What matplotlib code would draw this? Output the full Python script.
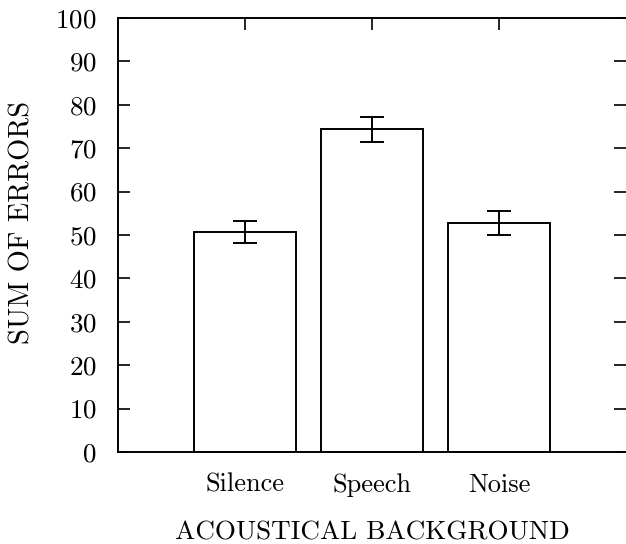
import matplotlib
matplotlib.use("Agg")
import matplotlib.pyplot as plt

categories = ["Silence", "Speech", "Noise"]
means = [50.6, 74.4, 52.7]
errors = [2.55, 2.9, 2.75]
yticks = [0, 10, 20, 30, 40, 50, 60, 70, 80, 90, 100]
xlabel = "ACOUSTICAL BACKGROUND"
ylabel = "SUM OF ERRORS"

plt.rcParams['font.family'] = ['cmr10', 'DejaVu Serif']
plt.rcParams['axes.formatter.use_mathtext'] = True

W, H = 626, 544
fig = plt.figure(figsize=(W / 100, H / 100), dpi=100)
ax = fig.add_axes([118 / W, (H - 452) / H, (W - 118) / W, 434 / H])

pos = [1, 2, 3]
ax.bar(pos, means, width=0.8, color='white', edgecolor='black', linewidth=1.4, zorder=2)
ax.errorbar(pos, means, yerr=errors, fmt='none', ecolor='black', elinewidth=1.4,
            capsize=8.5, capthick=1.4, zorder=3)

ax.set_xlim(0, 4)
ax.set_ylim(0, 100)
ax.set_yticks(yticks)
ax.set_xticks(pos)
ax.set_xticklabels(categories)
for s in ['left', 'bottom', 'top']:
    ax.spines[s].set_linewidth(1.4)
ax.spines['right'].set_visible(False)

ax.tick_params(axis='y', direction='in', left=True, right=True, length=8.6, width=1.2,
               labelsize=19.5, pad=15.5)
ax.tick_params(axis='x', direction='in', bottom=False, top=True, labelbottom=True,
               length=8.6, width=1.2, labelsize=19, pad=28.5)
for lbl in ax.get_xticklabels():
    lbl.set_va('baseline')

ax.set_xlabel(xlabel, fontsize=19.5)
ax.set_ylabel(ylabel, fontsize=20.5)
ax.xaxis.set_label_coords(0.5, -(540 - 452) / 434, transform=ax.transAxes)
ax.xaxis.label.set_va('baseline')
ax.yaxis.set_label_coords(-(118 - 22) / (W - 118), 0.5 + 13 / 434, transform=ax.transAxes)
ax.yaxis.label.set_va('center')

fig.savefig("out.png", dpi=100)
